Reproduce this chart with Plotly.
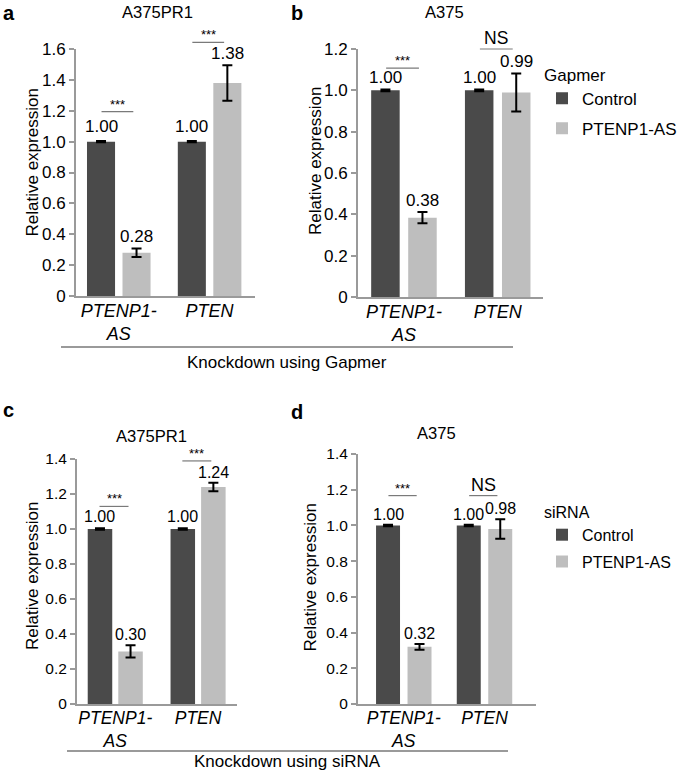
import plotly.graph_objects as go

# ---------------- data ----------------
categories = ["PTENP1-AS", "PTEN"]
tick_labels = ["<i>PTENP1-</i><br><i>AS</i>", "<i>PTEN</i>"]
series_names = ["Control", "PTENP1-AS"]

a_control = [1.00, 1.00]
a_control_err = [0.004, 0.004]
a_knock = [0.28, 1.38]
a_knock_err = [0.028, 0.115]
a_sig = ["***", "***"]

b_control = [1.00, 1.00]
b_control_err = [0.004, 0.004]
b_knock = [0.384, 0.99]
b_knock_err = [0.027, 0.092]
b_sig = ["***", "NS"]

c_control = [1.00, 1.00]
c_control_err = [0.004, 0.004]
c_knock = [0.30, 1.24]
c_knock_err = [0.035, 0.025]
c_sig = ["***", "***"]

d_control = [1.00, 1.00]
d_control_err = [0.004, 0.004]
d_knock = [0.32, 0.98]
d_knock_err = [0.016, 0.055]
d_sig = ["***", "NS"]

# ---------------- style / layout ----------------
W, H = 685, 773
FONT = "Liberation Sans, Arial, Helvetica, sans-serif"
DARK = "#4a4a4a"
LIGHT = "#bebebe"
AXC = "#9a9a9a"
SIGC = "#7a7a7a"


def px(x):
    return x / W


def py(y):
    return 1 - y / H


panels = [
    dict(n="", letter="a", title="A375PR1", ctrl=a_control, ctrl_e=a_control_err,
         kd=a_knock, kd_e=a_knock_err, sig=a_sig, ymax=1.6,
         xd=(76, 255), yd=(49, 296), xr=[-0.471, 1.50], slot=0.391, w=0.309,
         sigy=[1.194, 1.643], title_pos=(157.5, 12.5), letter_pos=(1, 13),
         ytitle_pos=(32, 162.5), tick_fs=17, val_fs=17, xt_fs=18, ns_fs=17.5,
         ctrl_shift=3, legend=None),
    dict(n="2", letter="b", title="A375", ctrl=b_control, ctrl_e=b_control_err,
         kd=b_knock, kd_e=b_knock_err, sig=b_sig, ymax=1.2,
         xd=(358, 543), yd=(49, 297), xr=[-0.49, 1.483], slot=0.395, w=0.304,
         sigy=[1.107, 1.2], title_pos=(444.5, 12.5), letter_pos=(289, 13),
         ytitle_pos=(315, 161), tick_fs=17, val_fs=17, xt_fs=18, ns_fs=17.5,
         ctrl_shift=1, legend="legend"),
    dict(n="3", letter="c", title="A375PR1", ctrl=c_control, ctrl_e=c_control_err,
         kd=c_knock, kd_e=c_knock_err, sig=c_sig, ymax=1.4,
         xd=(77, 237), yd=(459, 704), xr=[-0.462, 1.47], slot=0.369, w=0.296,
         sigy=[1.129, 1.389], title_pos=(151.5, 436), letter_pos=(1, 410),
         ytitle_pos=(32.5, 576.5), tick_fs=15.5, val_fs=16, xt_fs=17.5, ns_fs=18,
         ctrl_shift=1, legend=None),
    dict(n="4", letter="d", title="A375", ctrl=d_control, ctrl_e=d_control_err,
         kd=d_knock, kd_e=d_knock_err, sig=d_sig, ymax=1.4,
         xd=(358, 536), yd=(454, 704), xr=[-0.567, 1.638], slot=0.39, w=0.297,
         sigy=[1.167, 1.167], title_pos=(436.5, 433), letter_pos=(289, 412),
         ytitle_pos=(310, 577.5), tick_fs=15.5, val_fs=16, xt_fs=17.5, ns_fs=18,
         ctrl_shift=0, legend="legend2"),
]

fig = go.Figure()
annotations = []
shapes = []
layout_axes = {}

for p in panels:
    xa = "x" + p["n"]
    ya = "y" + p["n"]
    s, w = p["slot"], p["w"]
    xr0, xr1 = p["xr"]

    def xdom(v):
        return (v - xr0) / (xr1 - xr0)

    for vals, errs, name, col, off, ysh in [
        (p["ctrl"], p["ctrl_e"], series_names[0], DARK, -s / 2 - w / 2, p["ctrl_shift"]),
        (p["kd"], p["kd_e"], series_names[1], LIGHT, s / 2 - w / 2, 0),
    ]:
        fig.add_trace(go.Bar(
            x=categories, y=vals, name=name, xaxis=xa, yaxis=ya,
            marker=dict(color=col, line=dict(width=0)),
            width=w, offset=off,
            error_y=dict(type="data", array=errs, color="black", thickness=2, width=5),
            showlegend=p["legend"] is not None,
            legend=p["legend"] if p["legend"] else "legend",
            legendgroup=p["letter"] + name,
            hoverinfo="skip",
        ))
        # value labels
        for i, (v, e) in enumerate(zip(vals, errs)):
            annotations.append(dict(
                x=i + off + w / 2, y=v + e, xref=xa, yref=ya, text=f"{v:.2f}",
                showarrow=False, yanchor="bottom", xanchor="center", yshift=ysh,
                font=dict(size=p["val_fs"], color="black", family=FONT)))
    # significance (domain refs so that marks above the axis top are not clipped)
    for i, lab in enumerate(p["sig"]):
        y0 = p["sigy"][i] / p["ymax"]
        shapes.append(dict(type="line", xref=xa + " domain", yref=ya + " domain",
                           x0=xdom(i - 0.19), x1=xdom(i + 0.16), y0=y0, y1=y0,
                           line=dict(color=SIGC, width=1.2)))
        is_ns = lab == "NS"
        annotations.append(dict(x=xdom(i - 0.015), y=y0, xref=xa + " domain", yref=ya + " domain",
                                text=lab, showarrow=False, xanchor="center", yanchor="bottom",
                                yshift=-1 if is_ns else -2,
                                font=dict(size=p["ns_fs"] if is_ns else 13, color="black",
                                          family=FONT)))
    # titles
    annotations.append(dict(x=px(p["title_pos"][0]), y=py(p["title_pos"][1]), xref="paper", yref="paper",
                            text=p["title"], showarrow=False, xanchor="center", yanchor="middle",
                            font=dict(size=16.6, color="black", family=FONT)))
    annotations.append(dict(x=px(p["letter_pos"][0]), y=py(p["letter_pos"][1]), xref="paper", yref="paper",
                            text="<b>" + p["letter"] + "</b>", showarrow=False, xanchor="left",
                            yanchor="middle", font=dict(size=20, color="black", family=FONT)))
    annotations.append(dict(x=px(p["ytitle_pos"][0]), y=py(p["ytitle_pos"][1]), xref="paper", yref="paper",
                            text="Relative expression", textangle=-90, showarrow=False,
                            xanchor="center", yanchor="middle",
                            font=dict(size=17, color="black", family=FONT)))
    tv = [round(0.2 * k, 1) for k in range(int(round(p["ymax"] / 0.2)) + 1)]
    tt = ["0" if v == 0 else f"{v:.1f}" for v in tv]
    layout_axes["xaxis" + p["n"]] = dict(
        domain=[px(p["xd"][0]), px(p["xd"][1])], anchor=ya, type="category",
        range=p["xr"], showline=True, linecolor=AXC, linewidth=2, ticks="",
        tickvals=categories, ticktext=tick_labels, showgrid=False, zeroline=False,
        automargin=False, ticklabelstandoff=-3,
        tickfont=dict(size=p["xt_fs"], color="black", family=FONT), fixedrange=True)
    layout_axes["yaxis" + p["n"]] = dict(
        domain=[py(p["yd"][1]), py(p["yd"][0])], anchor=xa, range=[0, p["ymax"]],
        showline=True, linecolor=AXC, linewidth=2, ticks="outside", ticklen=5,
        tickwidth=2, tickcolor=AXC, tickvals=tv, ticktext=tt, showgrid=False,
        zeroline=False, automargin=False,
        tickfont=dict(size=p["tick_fs"], color="black", family=FONT), fixedrange=True)

# group lines "Knockdown using ..."
for (x0, x1, yl, txt, yt) in [(61, 513, 347, "Knockdown using Gapmer", 362),
                              (67, 508, 751, "Knockdown using siRNA", 761)]:
    shapes.append(dict(type="line", xref="paper", yref="paper", x0=px(x0), x1=px(x1),
                       y0=py(yl), y1=py(yl), line=dict(color=AXC, width=2)))
    annotations.append(dict(x=px((x0 + x1) / 2), y=py(yt), xref="paper", yref="paper", text=txt,
                            showarrow=False, xanchor="center", yanchor="middle",
                            font=dict(size=17, color="black", family=FONT)))

fig.update_layout(
    template="none",
    width=W, height=H, autosize=False,
    margin=dict(l=0, r=0, t=0, b=0, autoexpand=False),
    paper_bgcolor="white", plot_bgcolor="white",
    font=dict(family=FONT, color="black"),
    barmode="overlay",
    annotations=annotations, shapes=shapes,
    legend=dict(title=dict(text="Gapmer", font=dict(size=17, family=FONT)),
                x=px(542), y=py(58.5), xanchor="left", yanchor="top", bgcolor="rgba(0,0,0,0)",
                font=dict(size=17, color="black", family=FONT), tracegroupgap=5,
                itemclick=False, itemdoubleclick=False),
    legend2=dict(title=dict(text="siRNA", font=dict(size=16, family=FONT)),
                 x=px(542), y=py(497), xanchor="left", yanchor="top", bgcolor="rgba(0,0,0,0)",
                 font=dict(size=16, color="black", family=FONT), tracegroupgap=3,
                 itemclick=False, itemdoubleclick=False),
    **layout_axes,
)

fig.write_html("out.html", config={"displayModeBar": False, "staticPlot": True},
               post_script="document.body.style.margin='0px';document.body.style.overflow='hidden';")
